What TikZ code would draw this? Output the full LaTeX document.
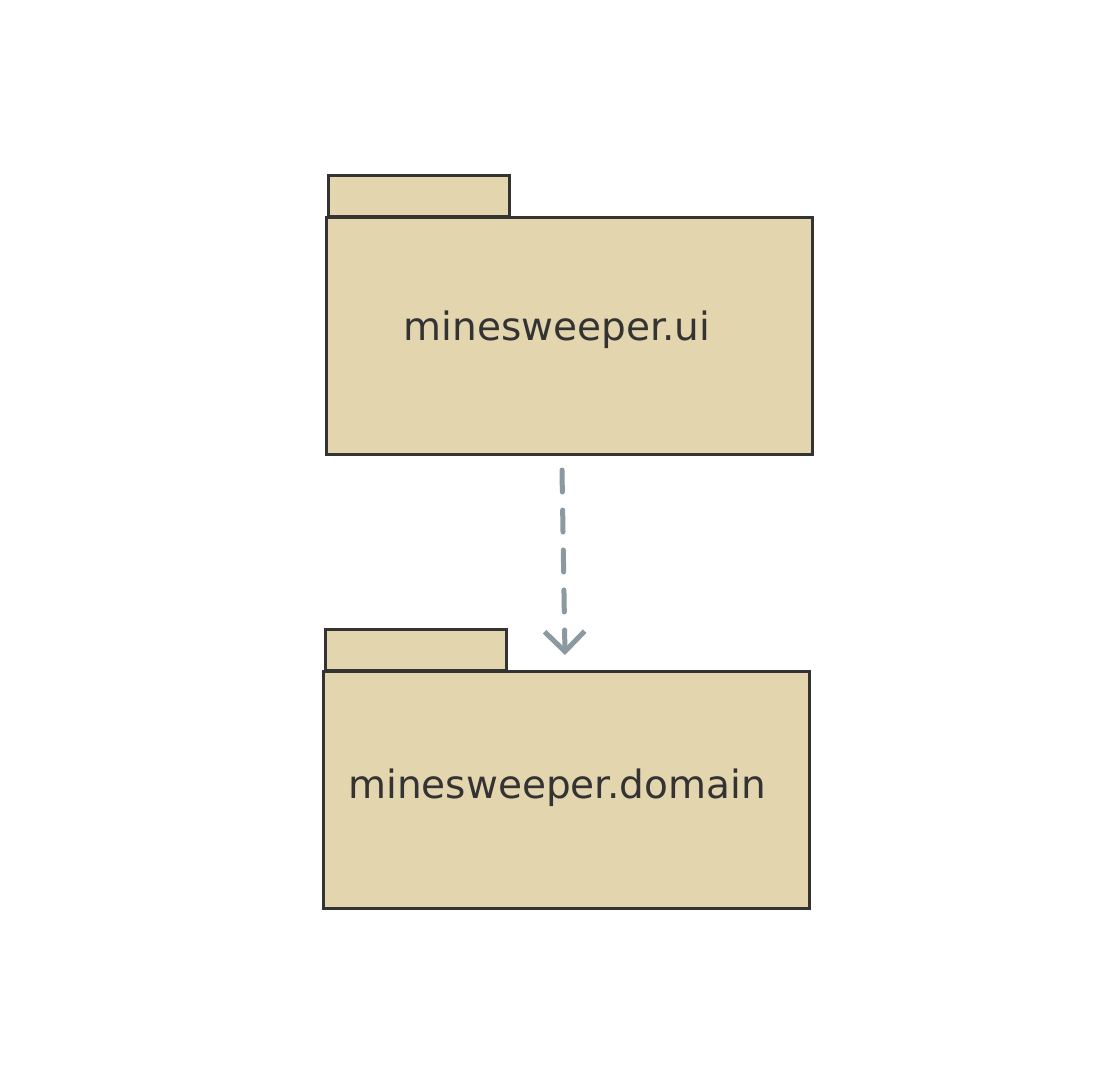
\documentclass[tikz,border=0pt]{standalone}
\usepackage{fontspec}
\setmainfont{DejaVu Sans}
\usetikzlibrary{arrows.meta}
\definecolor{pkgfill}{HTML}{E3D5AE}
\definecolor{pkgline}{HTML}{333333}
\definecolor{deparrow}{HTML}{8A9AA0}
\begin{document}
\begin{tikzpicture}[x=1pt,y=-1pt,
  pkgbody/.style={draw=pkgline,fill=pkgfill,line width=3pt,rectangle,minimum width=486pt,minimum height=237pt,anchor=north west,inner sep=0pt},
  pkgtab/.style={draw=pkgline,fill=pkgfill,line width=3pt,rectangle,minimum width=181pt,minimum height=41pt,anchor=south west,inner sep=0pt},
  pkglabel/.style={font=\fontsize{39}{44}\selectfont,text=pkgline},
  dep/.style={draw=deparrow,line width=5pt,dash pattern=on 22pt off 18pt,line cap=round,-{Straight Barb[length=20pt,width=40pt,line width=5pt]}}]
\useasboundingbox (0,0) rectangle (1104,1080);
\fill[white] (0,0) rectangle (1104,1080);
% top package
\node[pkgtab] (tabA) at (327,218) {};
\node[pkgbody] (uibody) at (325,216) {};
\node[pkglabel] (uilabel) at (557,330) {minesweeper.ui};
% bottom package
\node[pkgtab] (tabB) at (324,672) {};
\node[pkgbody] (dombody) at (322,670) {};
\node[pkglabel] (domlabel) at (557,788) {minesweeper.domain};
% dependency
\coordinate (depstart) at (562,470);
\coordinate (depend) at (565,655);
\draw[dep] (depstart) -- (depend);
\end{tikzpicture}
\end{document}
